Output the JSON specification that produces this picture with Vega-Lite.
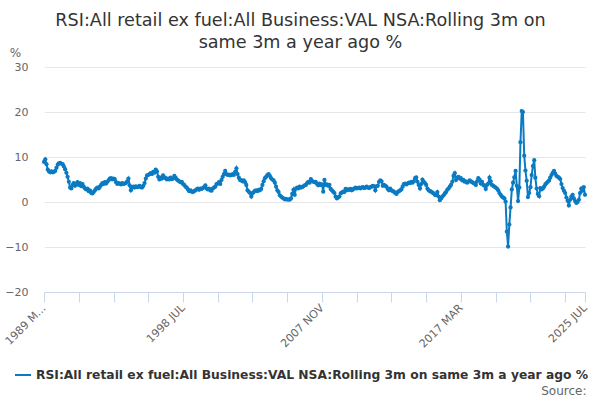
{
  "$schema": "https://vega.github.io/schema/vega-lite/v6.json",
  "width": 541,
  "height": 225,
  "autosize": {"type": "none"},
  "padding": {"left": 44, "top": 67, "right": 15, "bottom": 108},
  "background": "white",
  "config": {"view": {"stroke": null}, "font": "DejaVu Sans"},
  "title": {
    "text": ["RSI:All retail ex fuel:All Business:VAL NSA:Rolling 3m on", "same 3m a year ago %"],
    "font": "DejaVu Sans", "fontSize": 17.6, "fontWeight": "normal", "color": "#333333",
    "anchor": "middle", "frame": "group", "orient": "top", "offset": 0, "dx": -14, "dy": 6, "lineHeight": 22
  },
  "data": {"values": [
{"d":"1989-03","v":8.9},{"d":"1989-04","v":9.5},{"d":"1989-05","v":8.4},{"d":"1989-06","v":7.2},{"d":"1989-07","v":6.8},{"d":"1989-08","v":6.6},{"d":"1989-09","v":6.8},{"d":"1989-10","v":6.6},{"d":"1989-11","v":6.7},{"d":"1989-12","v":6.9},
{"d":"1990-01","v":7.6},{"d":"1990-02","v":8.3},{"d":"1990-03","v":8.6},{"d":"1990-04","v":8.7},{"d":"1990-05","v":8.5},{"d":"1990-06","v":8.4},{"d":"1990-07","v":7.9},{"d":"1990-08","v":7.3},{"d":"1990-09","v":6.5},{"d":"1990-10","v":5.6},{"d":"1990-11","v":4.5},{"d":"1990-12","v":3.2},
{"d":"1991-01","v":3.0},{"d":"1991-02","v":3.8},{"d":"1991-03","v":4.2},{"d":"1991-04","v":3.6},{"d":"1991-05","v":4.0},{"d":"1991-06","v":4.4},{"d":"1991-07","v":3.8},{"d":"1991-08","v":4.2},{"d":"1991-09","v":3.5},{"d":"1991-10","v":4.0},{"d":"1991-11","v":3.4},{"d":"1991-12","v":3.0},
{"d":"1992-01","v":2.8},{"d":"1992-02","v":3.0},{"d":"1992-03","v":2.4},{"d":"1992-04","v":2.6},{"d":"1992-05","v":2.0},{"d":"1992-06","v":1.9},{"d":"1992-07","v":2.2},{"d":"1992-08","v":2.6},{"d":"1992-09","v":3.0},{"d":"1992-10","v":3.2},{"d":"1992-11","v":3.0},{"d":"1992-12","v":3.4},
{"d":"1993-01","v":3.8},{"d":"1993-02","v":4.2},{"d":"1993-03","v":4.0},{"d":"1993-04","v":4.4},{"d":"1993-05","v":4.1},{"d":"1993-06","v":4.5},{"d":"1993-07","v":4.8},{"d":"1993-08","v":5.2},{"d":"1993-09","v":5.3},{"d":"1993-10","v":5.0},{"d":"1993-11","v":5.2},{"d":"1993-12","v":5.1},
{"d":"1994-01","v":4.4},{"d":"1994-02","v":4.0},{"d":"1994-03","v":4.2},{"d":"1994-04","v":4.1},{"d":"1994-05","v":3.9},{"d":"1994-06","v":4.2},{"d":"1994-07","v":4.0},{"d":"1994-08","v":4.1},{"d":"1994-09","v":4.2},{"d":"1994-10","v":4.6},{"d":"1994-11","v":5.2},{"d":"1994-12","v":3.7},
{"d":"1995-01","v":2.6},{"d":"1995-02","v":3.2},{"d":"1995-03","v":3.4},{"d":"1995-04","v":3.2},{"d":"1995-05","v":3.5},{"d":"1995-06","v":3.3},{"d":"1995-07","v":3.4},{"d":"1995-08","v":3.6},{"d":"1995-09","v":3.3},{"d":"1995-10","v":3.2},{"d":"1995-11","v":3.6},{"d":"1995-12","v":4.2},
{"d":"1996-01","v":5.2},{"d":"1996-02","v":5.9},{"d":"1996-03","v":6.0},{"d":"1996-04","v":6.2},{"d":"1996-05","v":6.4},{"d":"1996-06","v":6.2},{"d":"1996-07","v":6.7},{"d":"1996-08","v":6.5},{"d":"1996-09","v":7.2},{"d":"1996-10","v":6.8},{"d":"1996-11","v":5.6},{"d":"1996-12","v":5.0},
{"d":"1997-01","v":5.4},{"d":"1997-02","v":5.2},{"d":"1997-03","v":5.9},{"d":"1997-04","v":5.5},{"d":"1997-05","v":5.3},{"d":"1997-06","v":5.0},{"d":"1997-07","v":5.2},{"d":"1997-08","v":5.0},{"d":"1997-09","v":5.4},{"d":"1997-10","v":5.1},{"d":"1997-11","v":5.2},{"d":"1997-12","v":5.8},
{"d":"1998-01","v":5.4},{"d":"1998-02","v":5.0},{"d":"1998-03","v":4.8},{"d":"1998-04","v":4.6},{"d":"1998-05","v":4.4},{"d":"1998-06","v":4.5},{"d":"1998-07","v":4.0},{"d":"1998-08","v":3.8},{"d":"1998-09","v":3.4},{"d":"1998-10","v":3.2},{"d":"1998-11","v":2.8},{"d":"1998-12","v":2.4},
{"d":"1999-01","v":2.6},{"d":"1999-02","v":2.3},{"d":"1999-03","v":2.2},{"d":"1999-04","v":2.4},{"d":"1999-05","v":2.6},{"d":"1999-06","v":2.8},{"d":"1999-07","v":3.0},{"d":"1999-08","v":2.7},{"d":"1999-09","v":3.0},{"d":"1999-10","v":2.9},{"d":"1999-11","v":3.1},{"d":"1999-12","v":3.3},
{"d":"2000-01","v":3.7},{"d":"2000-02","v":3.0},{"d":"2000-03","v":2.8},{"d":"2000-04","v":3.0},{"d":"2000-05","v":2.6},{"d":"2000-06","v":2.5},{"d":"2000-07","v":3.0},{"d":"2000-08","v":3.2},{"d":"2000-09","v":3.4},{"d":"2000-10","v":4.0},{"d":"2000-11","v":4.1},{"d":"2000-12","v":4.4},
{"d":"2001-01","v":4.0},{"d":"2001-02","v":4.9},{"d":"2001-03","v":5.6},{"d":"2001-04","v":6.2},{"d":"2001-05","v":6.9},{"d":"2001-06","v":6.2},{"d":"2001-07","v":6.0},{"d":"2001-08","v":6.1},{"d":"2001-09","v":5.9},{"d":"2001-10","v":6.0},{"d":"2001-11","v":6.2},{"d":"2001-12","v":6.0},
{"d":"2002-01","v":6.7},{"d":"2002-02","v":7.5},{"d":"2002-03","v":6.2},{"d":"2002-04","v":5.4},{"d":"2002-05","v":4.9},{"d":"2002-06","v":4.8},{"d":"2002-07","v":4.6},{"d":"2002-08","v":4.8},{"d":"2002-09","v":4.4},{"d":"2002-10","v":3.8},{"d":"2002-11","v":2.6},{"d":"2002-12","v":2.3},
{"d":"2003-01","v":2.0},{"d":"2003-02","v":1.2},{"d":"2003-03","v":1.9},{"d":"2003-04","v":2.2},{"d":"2003-05","v":2.5},{"d":"2003-06","v":2.6},{"d":"2003-07","v":2.4},{"d":"2003-08","v":2.7},{"d":"2003-09","v":2.6},{"d":"2003-10","v":2.9},{"d":"2003-11","v":3.8},{"d":"2003-12","v":4.6},
{"d":"2004-01","v":5.3},{"d":"2004-02","v":5.6},{"d":"2004-03","v":6.0},{"d":"2004-04","v":6.2},{"d":"2004-05","v":5.8},{"d":"2004-06","v":5.3},{"d":"2004-07","v":5.0},{"d":"2004-08","v":4.8},{"d":"2004-09","v":4.3},{"d":"2004-10","v":3.4},{"d":"2004-11","v":2.6},{"d":"2004-12","v":2.2},
{"d":"2005-01","v":1.5},{"d":"2005-02","v":1.2},{"d":"2005-03","v":1.0},{"d":"2005-04","v":0.8},{"d":"2005-05","v":0.6},{"d":"2005-06","v":0.7},{"d":"2005-07","v":0.5},{"d":"2005-08","v":0.6},{"d":"2005-09","v":0.5},{"d":"2005-10","v":0.8},{"d":"2005-11","v":1.8},{"d":"2005-12","v":2.7},
{"d":"2006-01","v":1.6},{"d":"2006-02","v":3.0},{"d":"2006-03","v":3.2},{"d":"2006-04","v":3.0},{"d":"2006-05","v":3.4},{"d":"2006-06","v":3.2},{"d":"2006-07","v":3.3},{"d":"2006-08","v":3.5},{"d":"2006-09","v":3.7},{"d":"2006-10","v":3.8},{"d":"2006-11","v":4.2},{"d":"2006-12","v":4.5},
{"d":"2007-01","v":4.3},{"d":"2007-02","v":5.1},{"d":"2007-03","v":4.7},{"d":"2007-04","v":4.5},{"d":"2007-05","v":4.4},{"d":"2007-06","v":4.5},{"d":"2007-07","v":4.0},{"d":"2007-08","v":3.7},{"d":"2007-09","v":4.1},{"d":"2007-10","v":3.8},{"d":"2007-11","v":3.9},{"d":"2007-12","v":2.3},
{"d":"2008-01","v":4.9},{"d":"2008-02","v":3.8},{"d":"2008-03","v":3.9},{"d":"2008-04","v":3.6},{"d":"2008-05","v":3.8},{"d":"2008-06","v":2.9},{"d":"2008-07","v":2.6},{"d":"2008-08","v":2.3},{"d":"2008-09","v":2.0},{"d":"2008-10","v":1.2},{"d":"2008-11","v":0.8},{"d":"2008-12","v":1.0},
{"d":"2009-01","v":1.2},{"d":"2009-02","v":1.9},{"d":"2009-03","v":2.1},{"d":"2009-04","v":2.3},{"d":"2009-05","v":2.2},{"d":"2009-06","v":2.9},{"d":"2009-07","v":2.6},{"d":"2009-08","v":2.8},{"d":"2009-09","v":2.7},{"d":"2009-10","v":2.9},{"d":"2009-11","v":2.6},{"d":"2009-12","v":2.8},
{"d":"2010-01","v":3.0},{"d":"2010-02","v":3.2},{"d":"2010-03","v":3.0},{"d":"2010-04","v":3.1},{"d":"2010-05","v":3.2},{"d":"2010-06","v":3.0},{"d":"2010-07","v":3.2},{"d":"2010-08","v":3.3},{"d":"2010-09","v":3.1},{"d":"2010-10","v":3.2},{"d":"2010-11","v":3.4},{"d":"2010-12","v":3.2},
{"d":"2011-01","v":3.1},{"d":"2011-02","v":3.3},{"d":"2011-03","v":3.4},{"d":"2011-04","v":3.6},{"d":"2011-05","v":3.5},{"d":"2011-06","v":2.6},{"d":"2011-07","v":3.5},{"d":"2011-08","v":3.6},{"d":"2011-09","v":4.5},{"d":"2011-10","v":4.8},{"d":"2011-11","v":4.6},{"d":"2011-12","v":3.6},
{"d":"2012-01","v":3.8},{"d":"2012-02","v":3.6},{"d":"2012-03","v":3.4},{"d":"2012-04","v":2.9},{"d":"2012-05","v":2.6},{"d":"2012-06","v":3.0},{"d":"2012-07","v":2.6},{"d":"2012-08","v":2.4},{"d":"2012-09","v":2.3},{"d":"2012-10","v":2.0},{"d":"2012-11","v":1.8},{"d":"2012-12","v":2.2},
{"d":"2013-01","v":2.4},{"d":"2013-02","v":2.6},{"d":"2013-03","v":2.8},{"d":"2013-04","v":3.4},{"d":"2013-05","v":4.0},{"d":"2013-06","v":4.1},{"d":"2013-07","v":3.9},{"d":"2013-08","v":4.1},{"d":"2013-09","v":4.3},{"d":"2013-10","v":4.2},{"d":"2013-11","v":4.5},{"d":"2013-12","v":4.3},
{"d":"2014-01","v":4.6},{"d":"2014-02","v":5.3},{"d":"2014-03","v":5.5},{"d":"2014-04","v":4.5},{"d":"2014-05","v":3.8},{"d":"2014-06","v":3.0},{"d":"2014-07","v":4.0},{"d":"2014-08","v":5.0},{"d":"2014-09","v":4.5},{"d":"2014-10","v":4.2},{"d":"2014-11","v":3.8},{"d":"2014-12","v":3.0},
{"d":"2015-01","v":2.6},{"d":"2015-02","v":2.4},{"d":"2015-03","v":2.3},{"d":"2015-04","v":2.1},{"d":"2015-05","v":1.9},{"d":"2015-06","v":1.6},{"d":"2015-07","v":1.5},{"d":"2015-08","v":2.2},{"d":"2015-09","v":1.2},{"d":"2015-10","v":0.4},{"d":"2015-11","v":0.8},{"d":"2015-12","v":1.2},
{"d":"2016-01","v":1.5},{"d":"2016-02","v":1.9},{"d":"2016-03","v":2.2},{"d":"2016-04","v":2.7},{"d":"2016-05","v":3.0},{"d":"2016-06","v":3.4},{"d":"2016-07","v":3.8},{"d":"2016-08","v":4.5},{"d":"2016-09","v":5.8},{"d":"2016-10","v":6.4},{"d":"2016-11","v":4.9},{"d":"2016-12","v":5.4},
{"d":"2017-01","v":5.6},{"d":"2017-02","v":5.2},{"d":"2017-03","v":5.3},{"d":"2017-04","v":4.8},{"d":"2017-05","v":4.9},{"d":"2017-06","v":4.5},{"d":"2017-07","v":4.6},{"d":"2017-08","v":4.3},{"d":"2017-09","v":4.5},{"d":"2017-10","v":4.8},{"d":"2017-11","v":4.6},{"d":"2017-12","v":4.4},
{"d":"2018-01","v":4.2},{"d":"2018-02","v":4.1},{"d":"2018-03","v":3.8},{"d":"2018-04","v":4.6},{"d":"2018-05","v":5.3},{"d":"2018-06","v":5.0},{"d":"2018-07","v":4.1},{"d":"2018-08","v":4.5},{"d":"2018-09","v":3.8},{"d":"2018-10","v":3.6},{"d":"2018-11","v":2.9},{"d":"2018-12","v":3.8},
{"d":"2019-01","v":4.1},{"d":"2019-02","v":5.4},{"d":"2019-03","v":4.6},{"d":"2019-04","v":3.8},{"d":"2019-05","v":3.6},{"d":"2019-06","v":3.4},{"d":"2019-07","v":3.2},{"d":"2019-08","v":3.0},{"d":"2019-09","v":2.6},{"d":"2019-10","v":2.0},{"d":"2019-11","v":1.6},{"d":"2019-12","v":1.2},
{"d":"2020-01","v":1.0},{"d":"2020-02","v":0.8},{"d":"2020-03","v":0.1},{"d":"2020-04","v":-6.6},{"d":"2020-05","v":-9.9},{"d":"2020-06","v":-5.0},{"d":"2020-07","v":-1.2},{"d":"2020-08","v":2.8},{"d":"2020-09","v":4.3},{"d":"2020-10","v":5.5},{"d":"2020-11","v":6.9},{"d":"2020-12","v":3.6},
{"d":"2021-01","v":0.2},{"d":"2021-02","v":3.2},{"d":"2021-03","v":13.3},{"d":"2021-04","v":20.2},{"d":"2021-05","v":20.0},{"d":"2021-06","v":10.3},{"d":"2021-07","v":7.0},{"d":"2021-08","v":4.7},{"d":"2021-09","v":1.1},{"d":"2021-10","v":2.0},{"d":"2021-11","v":3.3},{"d":"2021-12","v":6.0},
{"d":"2022-01","v":8.0},{"d":"2022-02","v":9.3},{"d":"2022-03","v":5.4},{"d":"2022-04","v":3.0},{"d":"2022-05","v":1.8},{"d":"2022-06","v":1.3},{"d":"2022-07","v":3.1},{"d":"2022-08","v":2.8},{"d":"2022-09","v":3.0},{"d":"2022-10","v":3.4},{"d":"2022-11","v":3.9},{"d":"2022-12","v":4.2},
{"d":"2023-01","v":4.5},{"d":"2023-02","v":4.8},{"d":"2023-03","v":5.4},{"d":"2023-04","v":6.0},{"d":"2023-05","v":6.5},{"d":"2023-06","v":6.9},{"d":"2023-07","v":6.3},{"d":"2023-08","v":5.8},{"d":"2023-09","v":5.6},{"d":"2023-10","v":5.4},{"d":"2023-11","v":5.1},{"d":"2023-12","v":4.0},
{"d":"2024-01","v":3.1},{"d":"2024-02","v":2.5},{"d":"2024-03","v":2.0},{"d":"2024-04","v":1.0},{"d":"2024-05","v":0.3},{"d":"2024-06","v":-0.8},{"d":"2024-07","v":0.5},{"d":"2024-08","v":1.2},{"d":"2024-09","v":1.6},{"d":"2024-10","v":0.8},{"d":"2024-11","v":0.2},{"d":"2024-12","v":-0.2},
{"d":"2025-01","v":0.0},{"d":"2025-02","v":0.5},{"d":"2025-03","v":2.0},{"d":"2025-04","v":3.0},{"d":"2025-05","v":2.5},{"d":"2025-06","v":3.3},{"d":"2025-07","v":1.6}
  ]},
  "mark": {"type": "line", "strokeWidth": 2, "point": {"filled": true, "size": 18}},
  "encoding": {
    "x": {
      "field": "d", "type": "temporal",
      "scale": {"type": "utc", "domain": [{"year": 1989, "month": 3, "date": 1, "utc": true}, {"year": 2025, "month": 7, "date": 1, "utc": true}]},
      "axis": {
        "values": [
          {"year": 1989, "month": 3, "date": 1, "utc": true},
          {"year": 1991, "month": 7, "date": 1, "utc": true},
          {"year": 1993, "month": 11, "date": 1, "utc": true},
          {"year": 1996, "month": 3, "date": 1, "utc": true},
          {"year": 1998, "month": 7, "date": 1, "utc": true},
          {"year": 2000, "month": 11, "date": 1, "utc": true},
          {"year": 2003, "month": 3, "date": 1, "utc": true},
          {"year": 2005, "month": 7, "date": 1, "utc": true},
          {"year": 2007, "month": 11, "date": 1, "utc": true},
          {"year": 2010, "month": 3, "date": 1, "utc": true},
          {"year": 2012, "month": 7, "date": 1, "utc": true},
          {"year": 2014, "month": 11, "date": 1, "utc": true},
          {"year": 2017, "month": 3, "date": 1, "utc": true},
          {"year": 2019, "month": 7, "date": 1, "utc": true},
          {"year": 2021, "month": 11, "date": 1, "utc": true},
          {"year": 2024, "month": 3, "date": 1, "utc": true},
          {"year": 2025, "month": 7, "date": 1, "utc": true}
        ],
        "labelExpr": "utcFormat(datum.value,'%Y-%m') == '1989-03' ? '1989 M…' : (indexof(['1998-07','2007-11','2017-03','2025-07'], utcFormat(datum.value,'%Y-%m')) < 0 ? '' : upper(utcFormat(datum.value,'%Y %b')))",
        "labelAngle": -45, "labelAlign": "right", "labelBaseline": "middle",
        "labelFont": "DejaVu Sans", "labelFontSize": 11, "labelColor": "#666666",
        "labelPadding": 4, "labelOverlap": false, "labelBound": false, "labelFlush": false,
        "grid": false, "domainColor": "#ccd6eb", "domainWidth": 1,
        "tickColor": "#ccd6eb", "tickSize": 10, "tickWidth": 1,
        "title": "Source:", "titleFont": "DejaVu Sans", "titleFontSize": 12, "titleFontWeight": "normal",
        "titleColor": "#666666", "titleAnchor": "end", "titleAlign": "right",
        "titleX": 542, "titleY": 102, "titleBaseline": "alphabetic"
      }
    },
    "y": {
      "field": "v", "type": "quantitative",
      "scale": {"domain": [-20, 30], "nice": false, "zero": false},
      "axis": {
        "values": [-20, -10, 0, 10, 20, 30],
        "grid": true, "gridColor": "#e6e6e6", "gridWidth": 1,
        "domain": false, "ticks": false,
        "labelFont": "DejaVu Sans", "labelFontSize": 11, "labelColor": "#666666", "labelPadding": 16,
        "title": "%", "titleAngle": 0, "titleFont": "DejaVu Sans", "titleFontSize": 12, "titleFontWeight": "normal",
        "titleColor": "#666666", "titleX": -29, "titleY": -15, "titleAlign": "center", "titleBaseline": "middle"
      }
    },
    "color": {
      "datum": "RSI:All retail ex fuel:All Business:VAL NSA:Rolling 3m on same 3m a year ago %",
      "scale": {"range": ["#0a7bc2"]},
      "legend": {
        "title": null, "orient": "none", "legendX": -30, "legendY": 299,
        "symbolType": "stroke", "symbolStrokeWidth": 2, "symbolSize": 256,
        "labelFont": "DejaVu Sans", "labelFontSize": 12.3, "labelFontWeight": "bold", "labelColor": "#333333",
        "labelLimit": 700, "direction": "horizontal"
      }
    }
  }
}
